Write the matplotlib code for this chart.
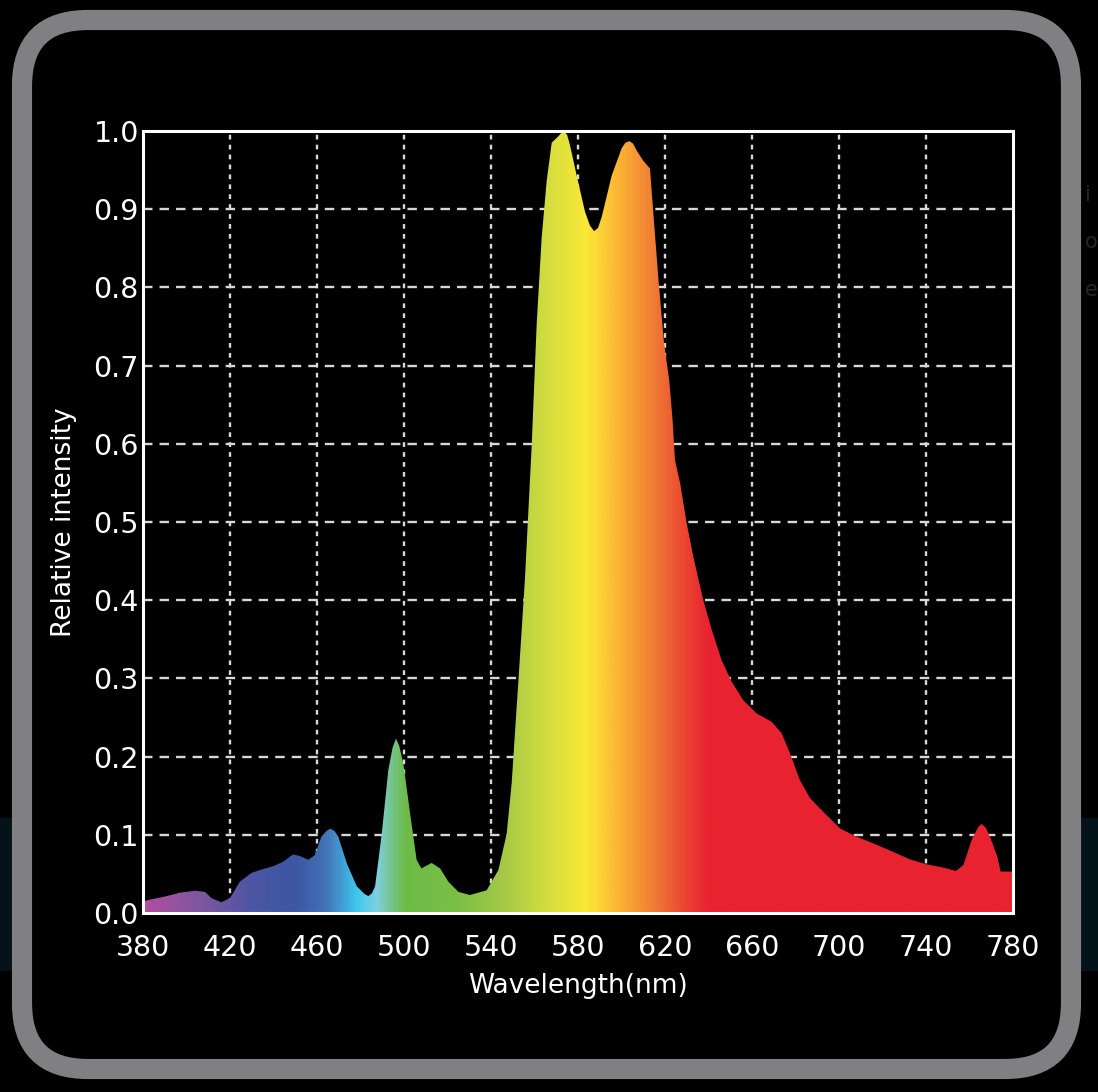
import numpy as np
import matplotlib
matplotlib.use("Agg")
import matplotlib.pyplot as plt
from matplotlib.colors import LinearSegmentedColormap, to_rgb
from matplotlib.patches import FancyBboxPatch, Rectangle

# Spectrum
wavelength = [380, 383, 390, 397, 404, 408.5, 411.5, 416, 420, 424.5, 430, 435,
              440, 444.5, 449, 452, 456, 459, 462, 464, 466, 468, 469.8, 473.7,
              478.3, 482, 483.6, 485.2, 486.7, 489.8, 492.8, 494.8, 496.3,
              497.8, 499.7, 502.8, 505.8, 508, 512.7, 516.6, 520.4, 525, 530.3,
              538, 543.4, 547.2, 549.5, 552.6, 555.6, 558.7, 561, 563.3, 565.6,
              567.9, 570.9, 572.2, 573.5, 575, 576.3, 579.4, 583.2, 585.5,
              587.4, 589.2, 590.9, 595.5, 600.1, 601.8, 603.6, 605.3, 607, 610,
              613.1, 614.5, 617, 619.5, 622, 623.5, 624.6, 627, 630, 633, 637.6,
              641.5, 646, 650.6, 656, 662.2, 669, 673.6, 677.5, 682, 686.7,
              692.7, 700.5, 708, 715.8, 725, 732.6, 740.3, 748, 753.8, 757.2,
              761, 764, 765.6, 767.5, 769.4, 772.8, 774.3, 778.6, 780]
intensity = [0.0145, 0.017, 0.021, 0.026, 0.0285, 0.027, 0.019, 0.0137, 0.019,
             0.04, 0.0515, 0.056, 0.06, 0.0656, 0.075, 0.073, 0.068, 0.074,
             0.0976, 0.104, 0.108, 0.105, 0.0976, 0.0635, 0.034, 0.024, 0.0217,
             0.025, 0.034, 0.102, 0.183, 0.212, 0.223, 0.214, 0.191, 0.1275,
             0.068, 0.057, 0.064, 0.057, 0.04, 0.027, 0.023, 0.029, 0.055,
             0.101, 0.166, 0.297, 0.427, 0.597, 0.753, 0.864, 0.936, 0.985,
             0.993, 0.997, 1.0, 0.995, 0.982, 0.943, 0.897, 0.879, 0.872,
             0.876, 0.89, 0.943, 0.978, 0.985, 0.987, 0.984, 0.975, 0.962,
             0.952, 0.90, 0.81, 0.73, 0.68, 0.63, 0.579, 0.549, 0.498, 0.456,
             0.40, 0.362, 0.3235, 0.296, 0.272, 0.255, 0.2446, 0.23, 0.204,
             0.17, 0.1466, 0.1295, 0.108, 0.0976, 0.089, 0.078, 0.0686, 0.0622,
             0.058, 0.0537, 0.0614, 0.0934, 0.11, 0.1138, 0.109, 0.0976, 0.072,
             0.053, 0.053, 0.053]

xticks = [380, 420, 460, 500, 540, 580, 620, 660, 700, 740, 780]
yticks = [0.0, 0.1, 0.2, 0.3, 0.4, 0.5, 0.6, 0.7, 0.8, 0.9, 1.0]

# colour of the fill along the wavelength axis
stop_nm = [380, 405, 431, 451, 464, 478, 487, 500, 523, 546, 564, 584, 599, 615, 630, 640, 780]
stop_col = ['#b04f9f', '#7f55a0', '#4a55a3', '#3c58a4', '#4474b8', '#3ec8ef',
            '#7fcfe0', '#6dbb47', '#78bf47', '#a5c946', '#cfdc3f', '#fbe936',
            '#fbb333', '#f07c35', '#eb4232', '#e8232f', '#e8232f']

W, H = 1098, 1092
fig = plt.figure(figsize=(W / 100, H / 100), dpi=100, facecolor='black')

# background bits outside the frame
fig.patches.append(Rectangle((0, (H - 970) / H), 12 / W, 152 / H,
                             transform=fig.transFigure, color='#04121a', zorder=0))
fig.patches.append(Rectangle((1081 / W, (H - 970) / H), 17 / W, 152 / H,
                             transform=fig.transFigure, color='#04121a', zorder=0))
for txt, yy in [('i', 195), ('o', 242), ('e', 290)]:
    fig.text(1085 / W, 1 - yy / H, txt, color='#262626', fontsize=15,
             va='center', ha='left')

# rounded grey frame
frame = FancyBboxPatch((22 / W, 23 / H), (1071 - 22) / W, (1072 - 23) / H,
                       boxstyle="round,pad=0,rounding_size=0.06",
                       transform=fig.transFigure, facecolor='none',
                       edgecolor='#808083', linewidth=14.5, zorder=1,
                       mutation_aspect=W / H)
fig.patches.append(frame)

ax = fig.add_axes([143 / W, (H - 913) / H, 870 / W, 782 / H])
ax.set_facecolor('black')
ax.set_xlim(380, 780)
ax.set_ylim(0, 1.0)

# gradient fill clipped to the curve
cmap = LinearSegmentedColormap.from_list(
    'spec', [((n - 380) / 400, to_rgb(c)) for n, c in zip(stop_nm, stop_col)])
grad = np.linspace(0, 1, 800).reshape(1, -1)
poly = ax.fill_between(wavelength, intensity, 0, color='none', lw=0)
img = ax.imshow(grad, cmap=cmap, extent=[380, 780, 0, 1], aspect='auto',
                origin='lower', zorder=3, interpolation='bilinear')
path = poly.get_paths()[0]
img.set_clip_path(path, transform=ax.transData)

# grid
for x in xticks[1:-1]:
    ax.axvline(x, color='#d8d8d8', lw=1.7, ls=(0, (2, 2.2)), zorder=1)
for y in yticks[1:-1]:
    ax.axhline(y, color='#d8d8d8', lw=1.7, ls=(0, (4, 3)), zorder=1)

for s in ax.spines.values():
    s.set_color('white')
    s.set_linewidth(2.2)
    s.set_zorder(5)

ax.set_xticks(xticks)
ax.set_yticks(yticks)
ax.set_yticklabels([f'{v:.1f}' for v in yticks])
ax.tick_params(length=0, colors='white', labelsize=20.5)
ax.tick_params(axis='x', pad=15)
ax.tick_params(axis='y', pad=3)

ax.set_xlabel('Wavelength(nm)', color='white', fontsize=19, labelpad=8)
ax.set_ylabel('Relative intensity', color='white', fontsize=19, labelpad=12)

fig.savefig('out.png', dpi=100, facecolor='black')
